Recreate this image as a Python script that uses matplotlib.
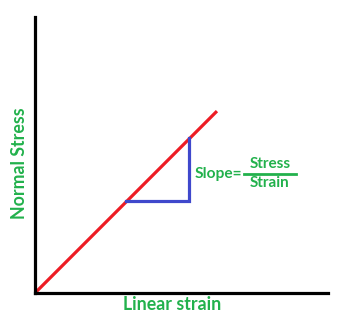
import matplotlib
matplotlib.use("Agg")
import matplotlib.pyplot as plt

# data (arbitrary units)
strain = [0.0, 6.21]
stress = [0.0, 6.59]
tri_x = [3.11, 5.26, 5.26]
tri_y = [3.33, 3.33, 5.62]
x_label = "Linear strain"
y_label = "Normal Stress"
slope_label = "Slope="
num_label = "Stress"
den_label = "Strain"

GREEN = "#22B14C"
RED = "#ED1C24"
BLUE = "#3F48CC"
FONT = ["Lato", "DejaVu Sans"]

fig = plt.figure(figsize=(3.63, 3.21), dpi=100)
ax = fig.add_axes([35/363, 28/321, 293/363, 276/321])
ax.set_xlim(0, 10)
ax.set_ylim(0, 10)
for s in ["top", "right"]:
    ax.spines[s].set_visible(False)
for s in ["left", "bottom"]:
    ax.spines[s].set_linewidth(2.3)
    ax.spines[s].set_color("black")
ax.set_xticks([])
ax.set_yticks([])

ax.plot(strain, stress, color=RED, lw=2.3, clip_on=False, solid_capstyle="butt")
ax.plot(tri_x, tri_y, color=BLUE, lw=2.3, solid_joinstyle="miter", solid_capstyle="projecting")

fs = 11.0
ax.text(5.46, 4.31, slope_label, color=GREEN, fontsize=11.2, fontweight="bold",
        family=FONT, ha="left", va="center")
ax.plot([7.13, 8.91], [4.31, 4.31], color=GREEN, lw=2.0)
ax.text(8.02, 4.66, num_label, color=GREEN, fontsize=fs, fontweight="bold",
        family=FONT, ha="center", va="center")
ax.text(8.02, 3.97, den_label, color=GREEN, fontsize=fs, fontweight="bold",
        family=FONT, ha="center", va="center")

fig.text(172.5/363, 1 - 305/321, x_label, color=GREEN, fontsize=12.8, fontweight="bold",
         family=FONT, ha="center", va="center")
fig.text(20/363, 1 - 163/321, y_label, color=GREEN, fontsize=12.8, fontweight="bold",
         family=FONT, ha="center", va="center", rotation=90)

fig.savefig("out.png", dpi=100)
